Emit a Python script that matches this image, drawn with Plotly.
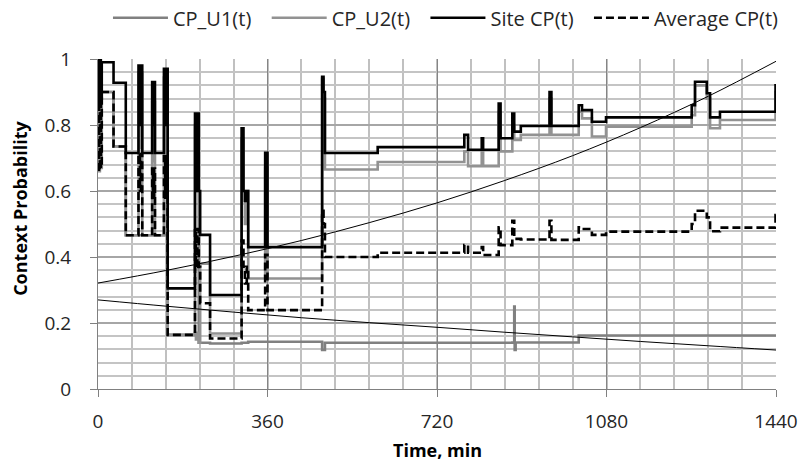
import plotly.graph_objects as go

# ---- data ----
time_min = [0, 2, 4, 6, 8, 33, 59, 86, 89, 91, 94, 115, 117, 119, 121, 140, 143, 145, 148,
            206, 208, 211, 214, 217, 238, 305, 309, 312, 316, 319, 355, 360, 476, 479, 482,
            594, 778, 786, 815, 818, 851, 855, 880, 884, 885, 887, 898, 959, 963, 1021, 1028,
            1049, 1079, 1083, 1261, 1268, 1293, 1300, 1321, 1439, 1440]

cp_u1 = [0.90, 0.90, 0.90, 0.90, 0.90, 0.735, 0.466, 0.466, 0.466, 0.466, 0.466, 0.466, 0.466, 0.466, 0.466, 0.466, 0.466, 0.466, 0.164,
         0.80, 0.60, 0.80, 0.14, 0.14, 0.138, 0.14, 0.14, 0.14, 0.14, 0.143, 0.143, 0.143, 0.118, 0.118, 0.14,
         0.14, 0.14, 0.14, 0.14, 0.14, 0.14, 0.14, 0.141, 0.25, 0.118, 0.141, 0.141, 0.141, 0.141, 0.162, 0.162,
         0.162, 0.162, 0.162, 0.162, 0.162, 0.162, 0.162, 0.162, 0.162, 0.162]

cp_u2 = [0.90, 0.66, 0.88, 0.67, 0.90, 0.735, 0.466, 0.96, 0.73, 0.96, 0.466, 0.87, 0.69, 0.87, 0.466, 0.944, 0.69, 0.944, 0.164,
         0.17, 0.15, 0.17, 0.14, 0.38, 0.168, 0.76, 0.60, 0.50, 0.60, 0.335, 0.67, 0.335, 0.94, 0.88, 0.665,
         0.688, 0.72, 0.675, 0.72, 0.675, 0.84, 0.72, 0.80, 0.755, 0.755, 0.755, 0.77, 0.88, 0.77, 0.84, 0.82,
         0.765, 0.795, 0.795, 0.83, 0.92, 0.88, 0.79, 0.815, 0.90, 0.90]

site_cp = [1.0, 0.87, 1.0, 0.88, 0.99, 0.928, 0.715, 0.98, 0.80, 0.98, 0.715, 0.93, 0.80, 0.93, 0.715, 0.97, 0.80, 0.97, 0.305,
           0.835, 0.60, 0.835, 0.60, 0.467, 0.285, 0.79, 0.60, 0.57, 0.60, 0.43, 0.716, 0.43, 0.946, 0.90, 0.715,
           0.733, 0.77, 0.725, 0.76, 0.725, 0.865, 0.76, 0.835, 0.78, 0.78, 0.78, 0.797, 0.90, 0.797, 0.86, 0.845,
           0.81, 0.823, 0.823, 0.86, 0.931, 0.896, 0.823, 0.84, 0.92, 0.92]

avg_cp = [0.90, 0.66, 0.88, 0.67, 0.90, 0.735, 0.466, 0.713, 0.60, 0.713, 0.466, 0.668, 0.58, 0.668, 0.466, 0.705, 0.58, 0.705, 0.164,
          0.485, 0.37, 0.485, 0.37, 0.26, 0.153, 0.45, 0.37, 0.32, 0.37, 0.239, 0.407, 0.239, 0.54, 0.50, 0.40,
          0.413, 0.436, 0.413, 0.43, 0.406, 0.49, 0.436, 0.51, 0.455, 0.455, 0.455, 0.453, 0.51, 0.452, 0.49, 0.485,
          0.467, 0.477, 0.477, 0.50, 0.54, 0.52, 0.478, 0.489, 0.527, 0.527]

trend_t = [0, 144, 288, 432, 576, 720, 864, 1008, 1152, 1296, 1440]
trend_up = [0.321, 0.359, 0.402, 0.450, 0.504, 0.564, 0.632, 0.707, 0.792, 0.887, 0.993]
trend_down = [0.270, 0.251, 0.233, 0.216, 0.201, 0.187, 0.172, 0.158, 0.144, 0.131, 0.118]

x_ticks = [0, 360, 720, 1080, 1440]
series_names = ["CP_U1(t)", "CP_U2(t)", "Site CP(t)", "Average CP(t)"]

FONT = "Open Sans"
TXT = "#262626"
NB = "\u00a0"

fig = go.Figure()
fig.add_trace(go.Scatter(x=time_min, y=cp_u1, name=series_names[0] + NB * 2, mode="lines",
                         line=dict(color="#808080", width=2.6, shape="hv")))
fig.add_trace(go.Scatter(x=time_min, y=cp_u2, name=series_names[1] + NB * 2, mode="lines",
                         line=dict(color="#929292", width=2.6, shape="hv")))
fig.add_trace(go.Scatter(x=time_min, y=site_cp, name=series_names[2] + NB * 2, mode="lines",
                         line=dict(color="#000000", width=2.6, shape="hv")))
fig.add_trace(go.Scatter(x=time_min, y=avg_cp, name=series_names[3], mode="lines",
                         line=dict(color="#000000", width=2.6, shape="hv", dash="8px,4px")))
fig.add_trace(go.Scatter(x=trend_t, y=trend_up, mode="lines", showlegend=False,
                         line=dict(color="#000000", width=1, shape="spline")))
fig.add_trace(go.Scatter(x=trend_t, y=trend_down, mode="lines", showlegend=False,
                         line=dict(color="#000000", width=1, shape="spline")))

fig.update_layout(
    width=801, height=464,
    margin=dict(l=98, r=25, t=59, b=75, autoexpand=False),
    paper_bgcolor="white", plot_bgcolor="white",
    font=dict(family=FONT, size=19, color=TXT),
    showlegend=True,
    legend=dict(orientation="h", x=0.0147, xanchor="left", y=1.125, yanchor="middle",
                font=dict(family=FONT, size=20, color=TXT), itemwidth=55,
                bgcolor="rgba(0,0,0,0)"),
    xaxis=dict(range=[0, 1440], tickvals=x_ticks, ticks="outside", ticklen=7, tickcolor="#808080",
               showline=True, linecolor="#808080", linewidth=1, zeroline=False,
               showgrid=True, gridcolor="#858585", gridwidth=1,
               minor=dict(dtick=72, tick0=0, showgrid=True, gridcolor="#c0c0c0", gridwidth=1.5, ticks=""),
               ticklabelstandoff=8, tickfont=dict(size=19, color=TXT), automargin=False),
    yaxis=dict(range=[0, 1], dtick=0.2, tick0=0, ticks="outside", ticklen=7, tickcolor="#808080",
               showline=True, linecolor="#808080", linewidth=1, zeroline=False,
               showgrid=True, gridcolor="#a6a6a6", gridwidth=1.5,
               minor=dict(dtick=0.04, tick0=0, showgrid=True, gridcolor="#c4c4c4", gridwidth=1.5, ticks=""),
               ticklabelstandoff=15, tickfont=dict(size=19, color=TXT), automargin=False),
    annotations=[
        dict(text="<b>Time, min</b>", xref="paper", yref="paper", x=0.5, y=-0.185,
             xanchor="center", yanchor="middle", showarrow=False,
             font=dict(family=FONT, size=18, color="#000000")),
        dict(text="<b>Context Probability</b>", xref="paper", yref="paper", x=-0.115, y=0.546,
             xanchor="center", yanchor="middle", textangle=-90, showarrow=False,
             font=dict(family=FONT, size=18, color="#000000")),
    ],
)

fig.write_html("out.html", config={"displayModeBar": False},
               post_script="document.body.style.margin='0px';")
